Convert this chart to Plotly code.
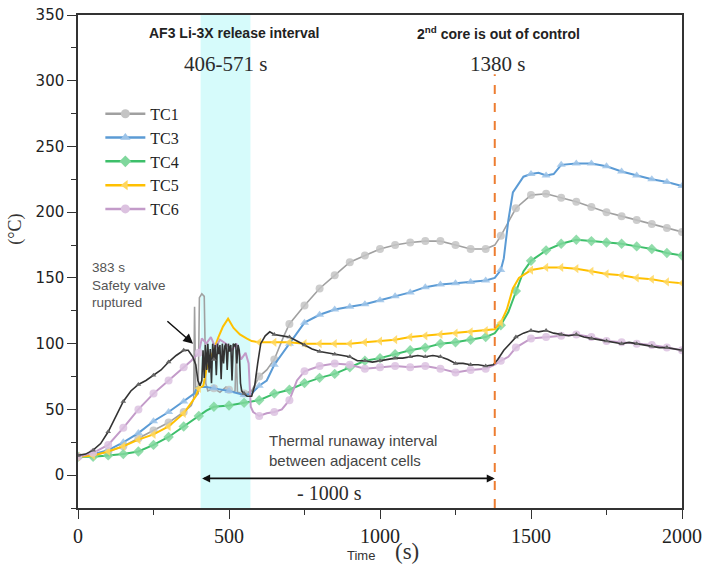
import plotly.graph_objects as go

# ---------------- data ----------------
tc1_t = [0, 50, 100, 150, 200, 250, 300, 350, 375, 383, 386, 390, 398, 402, 410, 418, 423, 430, 450, 470, 490, 500, 510, 520, 524, 528, 550, 575, 600, 625, 650, 680, 700, 750, 800, 850, 900, 950, 1000, 1050, 1100, 1150, 1200, 1250, 1300, 1350, 1380, 1400, 1425, 1450, 1500, 1550, 1600, 1650, 1700, 1750, 1800, 1850, 1900, 1950, 2000]
tc1_v = [14, 15, 18, 22, 28, 34, 40, 48, 53, 58, 128, 60, 62, 135, 138, 136, 70, 64, 66, 63, 67, 65, 63, 64, 95, 63, 62, 64, 75, 80, 88, 105, 115, 129, 142, 152, 162, 167, 172, 175, 177, 178, 178, 175, 172, 172, 175, 182, 192, 203, 213, 214, 211, 208, 204, 200, 197, 194, 191, 188, 185]

tc3_t = [0, 50, 100, 150, 200, 250, 300, 350, 385, 395, 425, 450, 500, 550, 575, 600, 625, 650, 700, 750, 800, 850, 900, 950, 1000, 1050, 1100, 1150, 1200, 1250, 1300, 1350, 1380, 1400, 1410, 1425, 1440, 1475, 1500, 1525, 1550, 1575, 1600, 1650, 1700, 1750, 1800, 1850, 1900, 1950, 2000]
tc3_v = [14, 16, 19, 25, 32, 41, 48, 56, 62, 67, 67, 66, 64, 61, 62, 68, 72, 84, 100, 116, 122, 126, 128, 130, 133, 136, 139, 143, 145, 146, 147, 148, 150, 156, 165, 194, 215, 227, 229, 230, 228, 229, 236, 237, 237, 235, 231, 228, 225, 223, 220]

tc4_t = [0, 50, 100, 150, 200, 250, 300, 350, 400, 425, 450, 500, 550, 600, 650, 700, 750, 800, 850, 900, 950, 1000, 1050, 1100, 1150, 1200, 1250, 1300, 1350, 1380, 1400, 1425, 1450, 1475, 1500, 1550, 1600, 1650, 1700, 1750, 1800, 1850, 1900, 1950, 2000]
tc4_v = [14, 14, 15, 16, 18, 23, 29, 37, 45, 49, 52, 53, 55, 57, 62, 65, 70, 74, 77, 82, 87, 89, 92, 95, 97, 100, 101, 103, 105, 108, 114, 124, 140, 155, 163, 171, 176, 179, 178, 177, 176, 174, 172, 169, 167]

tc5_t = [0, 50, 100, 150, 200, 250, 300, 350, 375, 390, 400, 415, 425, 445, 465, 480, 497, 515, 536, 558, 575, 600, 650, 700, 750, 800, 850, 900, 950, 1000, 1050, 1100, 1150, 1200, 1250, 1300, 1350, 1380, 1400, 1420, 1440, 1460, 1500, 1550, 1600, 1650, 1700, 1750, 1800, 1850, 1900, 1950, 2000]
tc5_v = [14, 15, 18, 22, 27, 31, 37, 47, 55, 60, 66, 68, 80, 93, 105, 113, 119, 112, 107, 104, 102, 101, 101, 101, 100, 100, 100, 100, 101, 102, 103, 105, 106, 107, 108, 109, 110, 111, 116, 126, 142, 150, 156, 158, 158, 157, 155, 153, 152, 150, 149, 147, 146]

tc6_t = [0, 50, 100, 150, 200, 250, 300, 350, 375, 400, 410, 425, 440, 455, 470, 490, 510, 525, 540, 555, 565, 572, 580, 600, 625, 650, 675, 700, 725, 750, 800, 850, 900, 950, 1000, 1050, 1100, 1150, 1200, 1250, 1300, 1350, 1380, 1400, 1425, 1450, 1500, 1550, 1600, 1650, 1700, 1750, 1800, 1850, 1900, 1950, 2000]
tc6_v = [14, 17, 23, 36, 50, 62, 72, 82, 87, 93, 104, 100, 105, 97, 103, 100, 95, 100, 88, 93, 85, 52, 48, 45, 47, 48, 50, 57, 72, 79, 83, 85, 84, 81, 82, 83, 82, 83, 81, 78, 80, 81, 84, 87, 90, 97, 104, 105, 106, 107, 105, 102, 101, 100, 99, 97, 95]

tc2_t = [0, 25, 50, 75, 100, 125, 150, 175, 200, 225, 250, 275, 300, 325, 350, 365, 380, 390, 397, 404, 410,
         414, 418, 422, 426, 430, 434, 438, 442, 446, 450, 454, 458, 462, 466, 470, 474, 478, 482, 486, 490,
         494, 498, 502, 506, 510, 514, 518, 522, 526, 530, 534, 538, 542, 550, 560, 575, 585, 595, 605, 620,
         635, 650, 675, 700, 725, 750, 775, 800, 825, 850, 875, 900, 925, 950, 975, 1000, 1025, 1050, 1075,
         1100, 1125, 1150, 1175, 1200, 1225, 1250, 1275, 1300, 1325, 1350, 1375, 1390, 1410, 1430, 1450, 1475,
         1500, 1525, 1550, 1575, 1600, 1625, 1650, 1675, 1700, 1725, 1750, 1775, 1800, 1825, 1850, 1875, 1900,
         1925, 1950, 1975, 2000]
tc2_v = [15, 16, 19, 24, 33, 45, 56, 64, 69, 72, 76, 80, 86, 91, 95, 95, 90, 84, 72, 68, 72,
         95, 74, 99, 80, 100, 78, 96, 70, 100, 88, 99, 76, 100, 92, 99, 73, 100, 85, 98, 100,
         80, 100, 94, 99, 72, 100, 98, 100, 85, 99, 95, 70, 64, 62, 60, 60, 68, 85, 100, 106,
         109, 107, 106, 105, 102, 99, 96, 94, 93, 92, 91, 90, 87, 87, 86, 87, 88, 89, 89,
         90, 91, 90, 91, 90, 88, 85, 85, 84, 84, 83, 84, 88, 95, 100, 105, 108,
         110, 109, 110, 108, 107, 106, 107, 105, 104, 103, 102, 101, 100, 101, 100, 99, 98,
         97, 97, 96, 95]

release_start, release_end = 406, 571
second_core_t = 1380
x_ticks = [0, 500, 1000, 1500, 2000]
y_ticks = [0, 50, 100, 150, 200, 250, 300, 350]

# ---------------- styles ----------------
series = [
    ("TC1", tc1_t, tc1_v, "#a0a0a0", "#c4c4c4", "circle", 1.6),
    ("TC3", tc3_t, tc3_v, "#5b9bd5", "#9cc3e8", "triangle-up", 2),
    ("TC4", tc4_t, tc4_v, "#3dbf6a", "#7fd79c", "diamond", 2),
    ("TC5", tc5_t, tc5_v, "#ffc000", "#ffd75e", "triangle-left", 2),
    ("TC6", tc6_t, tc6_v, "#c39bc9", "#dcc2e0", "circle", 2),
]

fig = go.Figure()

for name, t, v, lc, mc, sym, lw in series:
    fig.add_trace(go.Scatter(x=t, y=v, mode="lines", line=dict(color=lc, width=lw),
                             showlegend=False, hoverinfo="skip"))
    mt = [a for a in t if a % 50 == 0]
    mv = [b for a, b in zip(t, v) if a % 50 == 0]
    fig.add_trace(go.Scatter(x=mt, y=mv, mode="markers",
                             marker=dict(symbol=sym, size=8, color=mc, opacity=0.85),
                             showlegend=False, hoverinfo="skip"))

# unlabeled dark curve
fig.add_trace(go.Scatter(x=tc2_t, y=tc2_v, mode="lines", line=dict(color="#333333", width=1.6),
                         showlegend=False, hoverinfo="skip"))
fig.add_trace(go.Scatter(x=[a for a in tc2_t if a % 50 == 0],
                         y=[b for a, b in zip(tc2_t, tc2_v) if a % 50 == 0],
                         mode="markers", marker=dict(symbol="triangle-up", size=5, color="#666666"),
                         showlegend=False, hoverinfo="skip"))

# legend entries
for name, t, v, lc, mc, sym, lw in series:
    fig.add_trace(go.Scatter(x=[None], y=[None], mode="lines+markers", name=name,
                             line=dict(color=lc, width=2.5),
                             marker=dict(symbol=sym, size=9, color=mc)))

# shaded release interval
fig.add_shape(type="rect", x0=release_start, x1=release_end, y0=-25, y1=350,
              fillcolor="#d6fbfb", line=dict(width=0), layer="below")
# dashed line
fig.add_shape(type="line", x0=second_core_t, x1=second_core_t, y0=-25, y1=305,
              line=dict(color="#ed7d31", width=2, dash="dash"))

ann_sans = "Liberation Sans, Arial, sans-serif"
ann_serif = "Liberation Serif, Times New Roman, serif"

fig.add_annotation(x=517, y=336, text="<b>AF3 Li-3X release interval</b>", showarrow=False,
                   font=dict(family=ann_sans, size=14, color="#222"))
fig.add_annotation(x=490, y=313, text="406-571 s", showarrow=False,
                   font=dict(family=ann_serif, size=21, color="#2b2b2b"))
fig.add_annotation(x=1391, y=336, text="<b>2<sup>nd</sup> core is out of control</b>", showarrow=False,
                   font=dict(family=ann_sans, size=14, color="#222"))
fig.add_annotation(x=1388, y=313, text="1380 s", showarrow=False,
                   font=dict(family=ann_serif, size=21, color="#2b2b2b"))
fig.add_annotation(x=40, y=145, text="383 s<br>Safety valve<br>ruptured", showarrow=False,
                   xanchor="left", align="left",
                   font=dict(family=ann_sans, size=13.5, color="#555"))
fig.add_annotation(x=381, y=100, ax=291, ay=118, axref="x", ayref="y", text="",
                   showarrow=True, arrowhead=2, arrowsize=1.3, arrowwidth=1.5, arrowcolor="#111")
fig.add_annotation(x=626, y=19, text="Thermal runaway interval<br>between adjacent cells",
                   showarrow=False, xanchor="left", align="left",
                   font=dict(family=ann_sans, size=15, color="#444"))
fig.add_annotation(x=second_core_t, y=-2.5, ax=release_start, ay=-2.5, axref="x", ayref="y", text="",
                   showarrow=True, arrowhead=2, arrowside="end+start", arrowsize=1, arrowwidth=1.6,
                   arrowcolor="#111")
fig.add_annotation(x=834, y=-13.5, text="- 1000 s", showarrow=False,
                   font=dict(family=ann_serif, size=20, color="#2b2b2b"))
# axis titles
fig.add_annotation(x=937, y=-0.097, yref="paper", xanchor="center", yanchor="middle",
                   text="Time", showarrow=False,
                   font=dict(family=ann_sans, size=13, color="#333"))
fig.add_annotation(x=1089, y=-0.089, yref="paper", xanchor="center", yanchor="middle",
                   text="(s)", showarrow=False,
                   font=dict(family=ann_serif, size=23, color="#333"))
fig.add_annotation(x=-0.104, y=0.565, xref="paper", yref="paper", xanchor="center", yanchor="middle",
                   text="(°C)", textangle=-90,
                   showarrow=False, font=dict(family=ann_serif, size=18, color="#333"))

axis_common = dict(showline=True, linecolor="#333", linewidth=1.5, mirror=True,
                   ticks="outside", tickcolor="#333", ticklen=9, tickwidth=1.3,
                   showgrid=False, zeroline=False, automargin=False)

fig.update_xaxes(range=[0, 2000], tickvals=x_ticks, **axis_common,
                 minor=dict(ticks="outside", ticklen=5, tickcolor="#333", dtick=250),
                 tickfont=dict(family=ann_serif, size=20, color="#222"))
fig.update_yaxes(range=[-25, 350], tickvals=y_ticks, **axis_common,
                 minor=dict(ticks="outside", ticklen=5, tickcolor="#333", dtick=25, tick0=-25),
                 tickfont=dict(family="DejaVu Sans, Verdana, sans-serif", size=15, color="#222"))

fig.update_layout(
    width=702, height=569,
    margin=dict(l=78, r=20, t=15, b=61, autoexpand=False),
    plot_bgcolor="white", paper_bgcolor="white",
    legend=dict(x=0.037, y=0.834, xanchor="left", yanchor="top", bgcolor="rgba(0,0,0,0)",
                font=dict(family=ann_serif, size=16, color="#222"), tracegroupgap=0,
                itemwidth=40),
)

# remove the default page margin so the 702x569 figure fills the window exactly
fig.write_html("out.html", config={"displayModeBar": False},
               post_script="document.body.style.margin='0';document.body.style.padding='0';"
                           "document.body.style.overflow='hidden';")
